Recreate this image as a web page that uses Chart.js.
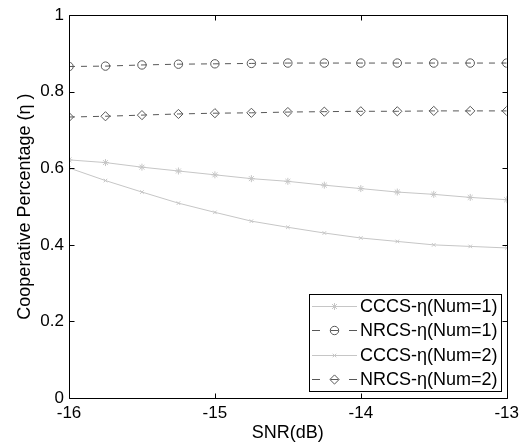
<!DOCTYPE html>
<html>
<head>
<meta charset="utf-8">
<script src="https://cdn.jsdelivr.net/npm/chart.js@4/dist/chart.umd.min.js"></script>
<style>
html,body{margin:0;padding:0;background:#fff;}
#wrap{position:relative;width:524px;height:444px;}
</style>
</head>
<body>
<div id="wrap"><canvas id="c" width="524" height="444"></canvas></div>
<script>
const snr = [-16, -15.75, -15.5, -15.25, -15, -14.75, -14.5, -14.25, -14, -13.75, -13.5, -13.25, -13];
const cccs1 = [0.622, 0.615, 0.603, 0.593, 0.583, 0.573, 0.566, 0.556, 0.547, 0.538, 0.532, 0.524, 0.518];
const nrcs1 = [0.866, 0.867, 0.870, 0.872, 0.873, 0.874, 0.875, 0.875, 0.875, 0.875, 0.875, 0.875, 0.875];
const cccs2 = [0.601, 0.568, 0.538, 0.509, 0.485, 0.462, 0.446, 0.431, 0.418, 0.409, 0.400, 0.396, 0.392];
const nrcs2 = [0.734, 0.736, 0.739, 0.742, 0.744, 0.745, 0.747, 0.748, 0.749, 0.749, 0.750, 0.750, 0.750];
const seriesNames = ['CCCS-\u03b7(Num=1)', 'NRCS-\u03b7(Num=1)', 'CCCS-\u03b7(Num=2)', 'NRCS-\u03b7(Num=2)'];
const xTicks = [-16, -15, -14, -13];
const yTicks = [0, 0.2, 0.4, 0.6, 0.8, 1];

const FONT = 'Liberation Sans, Arial, sans-serif';
const FS = 17;
const FS_LEG = 18;
const lightGray = '#c6c6c6';
const darkGray = '#585858';

function pts(ys){ return snr.map((x,i)=>({x:x,y:ys[i]})); }

const styles = [
  {color: lightGray, dash: [], point: 'star', r: 3.5},
  {color: darkGray, dash: [6,6], point: 'circle', r: 4.2},
  {color: lightGray, dash: [], point: 'crossRot', r: 2.5},
  {color: darkGray, dash: [6,6], point: 'rectRot', r: 4.6}
];
const values = [cccs1, nrcs1, cccs2, nrcs2];

const datasets = values.map((v,i)=>({
  label: seriesNames[i],
  data: pts(v),
  borderColor: styles[i].color,
  borderWidth: 1,
  borderDash: styles[i].dash,
  pointStyle: styles[i].point,
  pointRadius: styles[i].r,
  pointBorderColor: styles[i].color,
  pointBackgroundColor: 'rgba(0,0,0,0)',
  pointBorderWidth: 1,
  fill: false,
  tension: 0
}));

const framePlugin = {
  id: 'frame',
  afterDatasetsDraw(chart){
    const ctx = chart.ctx, a = chart.chartArea;
    const xs = chart.scales.x, ys = chart.scales.y;
    ctx.save();
    ctx.strokeStyle = '#000';
    ctx.lineWidth = 1;
    ctx.setLineDash([]);
    const L = Math.round(a.left)+0.5, R = Math.round(a.right)+0.5, T = Math.round(a.top)+0.5, B = Math.round(a.bottom)+0.5;
    ctx.beginPath();
    ctx.rect(L, T, R-L, B-T);
    ctx.stroke();
    const tl = 5;
    ctx.beginPath();
    xTicks.forEach(t=>{
      const px = Math.round(xs.getPixelForValue(t))+0.5;
      ctx.moveTo(px, B); ctx.lineTo(px, B-tl);
      ctx.moveTo(px, T); ctx.lineTo(px, T+tl);
    });
    yTicks.forEach(t=>{
      const py = Math.round(ys.getPixelForValue(t))+0.5;
      ctx.moveTo(L, py); ctx.lineTo(L+tl, py);
      ctx.moveTo(R, py); ctx.lineTo(R-tl, py);
    });
    ctx.stroke();

    // legend
    const bx = 309.5, by = 294.5, bw = 192, bh = 97;
    ctx.fillStyle = '#fff';
    ctx.fillRect(bx, by, bw, bh);
    ctx.strokeStyle = '#000';
    ctx.strokeRect(bx, by, bw, bh);
    ctx.font = FS_LEG + 'px ' + FONT;
    ctx.textBaseline = 'middle';
    ctx.textAlign = 'left';
    const rowH = 24.5;
    for (let i=0;i<4;i++){
      const cy = Math.round(by + 11 + i*rowH) + 0.5;
      const x0 = 312, x1 = 357, xm = 334.5;
      ctx.strokeStyle = styles[i].color;
      ctx.lineWidth = 1;
      ctx.setLineDash([]);
      ctx.beginPath();
      if (styles[i].dash.length){
        ctx.moveTo(x0, cy); ctx.lineTo(x0+8, cy);
        ctx.moveTo(xm-4, cy); ctx.lineTo(xm+4, cy);
        ctx.moveTo(x1-8, cy); ctx.lineTo(x1, cy);
      } else {
        ctx.moveTo(x0, cy); ctx.lineTo(x1, cy);
      }
      ctx.stroke();
      ctx.fillStyle = 'rgba(0,0,0,0)';
      Chart.helpers.drawPoint(ctx, {pointStyle: styles[i].point, radius: styles[i].r, rotation: 0, borderWidth: 1}, xm, cy);
      ctx.fillStyle = '#000';
      ctx.fillText(seriesNames[i], 360, cy + 1);
    }
    ctx.restore();
  }
};

new Chart(document.getElementById('c'), {
  type: 'line',
  data: { datasets: datasets },
  options: {
    responsive: false,
    animation: false,
    events: [],
    layout: { padding: { top: 13, right: 15, left: 0, bottom: 0 } },
    plugins: { legend: { display: false }, tooltip: { enabled: false } },
    scales: {
      x: {
        type: 'linear', min: -16, max: -13,
        afterBuildTicks(s){ s.ticks = xTicks.map(v=>({value:v})); },
        afterFit(s){ s.height = 46; },
        grid: { display: false, drawTicks: false },
        border: { display: false },
        ticks: { color: '#000', font: { family: FONT, size: FS }, padding: 5, maxRotation: 0, autoSkip: false, callback: v => String(v) },
        title: { display: true, text: 'SNR(dB)', color: '#000', font: { family: FONT, size: 18 }, padding: { top: 0, bottom: 0 } }
      },
      y: {
        type: 'linear', min: 0, max: 1,
        afterBuildTicks(s){ s.ticks = yTicks.map(v=>({value:v})); },
        afterFit(s){ s.width = 69; },
        grid: { display: false, drawTicks: false },
        border: { display: false },
        ticks: { color: '#000', font: { family: FONT, size: FS }, padding: 5, autoSkip: false, callback: v => String(Math.round(v*10)/10) },
        title: { display: true, text: 'Cooperative Percentage (\u03b7 )', color: '#000', font: { family: FONT, size: 18 }, padding: { top: 14, bottom: 0 } }
      }
    }
  },
  plugins: [framePlugin]
});
</script>
</body>
</html>
